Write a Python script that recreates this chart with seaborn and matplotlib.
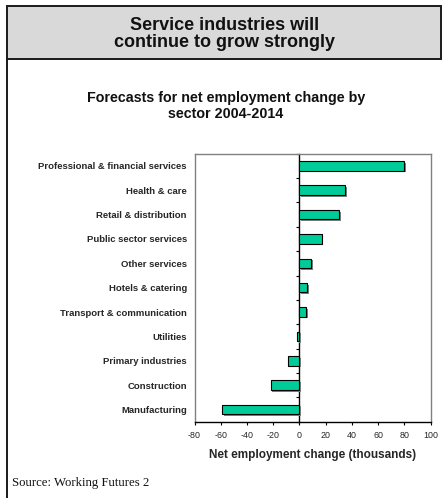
import numpy as np
import pandas as pd
import matplotlib
matplotlib.use("Agg")
import matplotlib.pyplot as plt
import matplotlib.patheffects as pe
from matplotlib.patches import Rectangle
from matplotlib.lines import Line2D
import seaborn as sns

sectors = ["Professional & financial services", "Health & care", "Retail & distribution",
           "Public sector services", "Other services", "Hotels & catering",
           "Transport & communication", "Utilities", "Primary industries",
           "Construction", "Manufacturing"]
change = [80, 35, 30, 17, 9, 6, 5, -2, -9, -22, -59]
xticks = [-80, -60, -40, -20, 0, 20, 40, 60, 80, 100]

sns.set_theme(style="white")
plt.rcParams['font.family'] = ['Liberation Sans', 'DejaVu Sans']

df = pd.DataFrame({"sector": sectors, "change": change})

fig = plt.figure(figsize=(4.42, 4.98), dpi=100)
fig.patch.set_facecolor("white")

# header box and frame
fig.add_artist(Rectangle((7/442, 1-59/498), 434/442, 53/498, transform=fig.transFigure,
                         facecolor="#d9d9d9", edgecolor="#1a1a1a", linewidth=1.4))
fig.add_artist(Line2D([7/442, 7/442], [0, 1-59/498], transform=fig.transFigure,
                      color="#1a1a1a", linewidth=1.4))

fig.text(0.508, 0.9317, "Service industries will\ncontinue to grow strongly",
         ha="center", va="center", fontsize=13, fontweight="bold", linespacing=1.05,
         color="#111111")
fig.text(0.511, 0.787, "Forecasts for net employment change by\nsector 2004-2014",
         ha="center", va="center", fontsize=10.3, fontweight="bold", linespacing=1.25,
         color="#111111")

ax = fig.add_axes([194.5/442, 76.3/498, 236.2/442, 268/498])
sns.barplot(data=df, x="change", y="sector", orient="h", color="#00CC99", saturation=1,
            width=0.39, edgecolor="black", linewidth=0.8, ax=ax)
for p in ax.patches:
    p.set_path_effects([pe.SimplePatchShadow(offset=(1.2, -1.2), shadow_rgbFace="#808080", alpha=1),
                        pe.Normal()])

ax.set_xlim(-80, 100)
ax.set_xticks(xticks)
ax.set_xticklabels([str(v) for v in xticks], fontsize=6.4)
ax.set_ylabel("")
ax.set_xlabel("Net employment change (thousands)", fontsize=8.5, fontweight="bold", labelpad=6)
ax.tick_params(axis="y", length=0, pad=5.4, labelsize=6.8)
for lab in ax.get_yticklabels():
    lab.set_fontweight("bold")
ax.tick_params(axis="x", length=2.5, width=0.8, direction="out", pad=4.5, color="black", bottom=True)
for s in ["left", "top", "right"]:
    ax.spines[s].set_color("#808080")
    ax.spines[s].set_linewidth(1.0)
ax.spines["bottom"].set_color("black")
ax.spines["bottom"].set_linewidth(1.0)

xmin, xmax = ax.get_xlim()
sec = ax.secondary_yaxis((0 - xmin) / (xmax - xmin))
sec.set_yticks(np.arange(-0.5, len(sectors), 1.0))
sec.set_yticklabels([])
sec.tick_params(axis="y", length=2.5, width=0.8, direction="out", color="black", left=True)
sec.spines["left"].set_color("black")
sec.spines["left"].set_linewidth(1.0)

fig.text(12/442, 0.030, "Source: Working Futures 2", ha="left", va="center",
         fontsize=9.2, family=["Liberation Serif", "DejaVu Serif"], color="#111111")

fig.savefig("out.png", dpi=100)
